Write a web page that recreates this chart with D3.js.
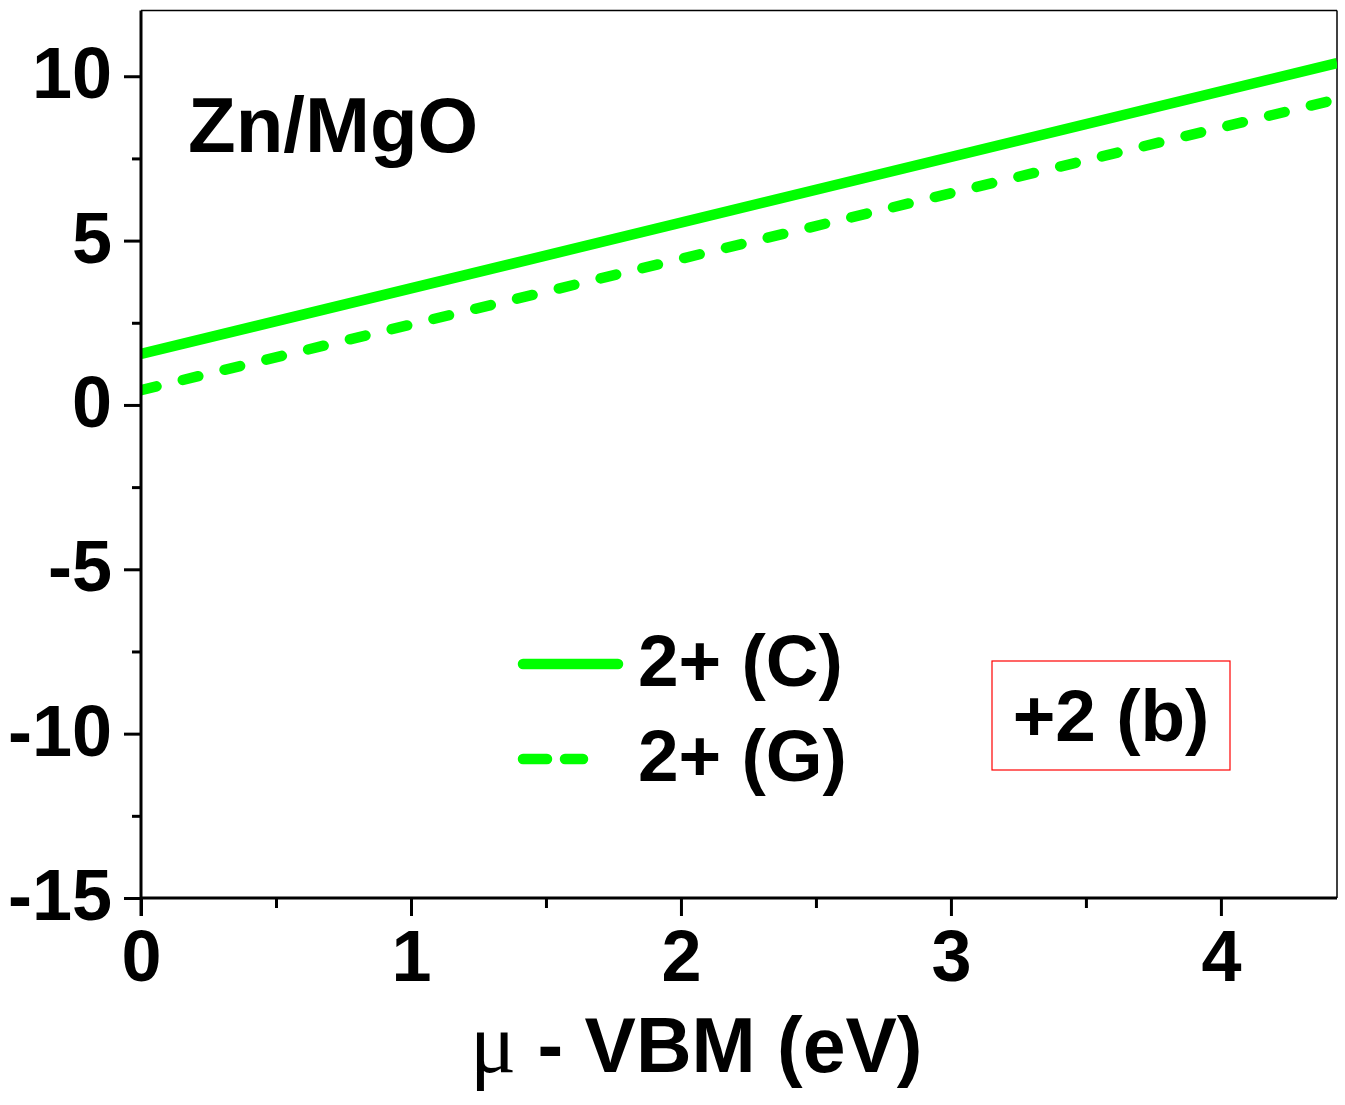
<!DOCTYPE html>
<html>
<head>
<meta charset="utf-8">
<script src="https://cdn.jsdelivr.net/npm/d3@7"></script>
<style>
  body { margin: 0; background: #fff; }
  text { font-family: "Liberation Sans", Arial, sans-serif; font-weight: bold; }
</style>
</head>
<body>
<div id="chart-area"></div>
<script>
// data
var xEnds = [0, 4.43];
var solidC = [1.55, 10.4];
var dashedG = [0.45, 9.3];
var seriesNames = ["2+ (C)", "2+ (G)"];
var xTicks = [0, 1, 2, 3, 4];
var xMinor = [0.5, 1.5, 2.5, 3.5];
var yTicks = [-15, -10, -5, 0, 5, 10];
var yMinor = [-12.5, -7.5, -2.5, 2.5, 7.5];

var margin = {top: 10.5, right: 8, bottom: 207, left: 141};
var width = 1345 - margin.left - margin.right;
var height = 1105 - margin.top - margin.bottom;

var svg = d3.select("#chart-area")
  .append("svg")
    .attr("width", 1345)
    .attr("height", 1105);

var g = svg.append("g")
  .attr("transform", "translate(" + margin.left + ", " + margin.top + ")");

var x = d3.scaleLinear().domain([0, 4.43]).range([0, width]);
var y = d3.scaleLinear().domain([-15, 12]).range([height, 0]);

var green = "#00ff00";

// top and right frame
g.append("line").attr("x1", 0).attr("x2", width).attr("y1", 0).attr("y2", 0)
  .attr("stroke", "#000").attr("stroke-width", 1.5);
g.append("line").attr("x1", width).attr("x2", width).attr("y1", 0).attr("y2", height)
  .attr("stroke", "#000").attr("stroke-width", 1.5);

// lines
var line = d3.line()
  .x(function(d) { return x(d[0]); })
  .y(function(d) { return y(d[1]); });

g.append("clipPath").attr("id", "clip")
  .append("rect").attr("width", width).attr("height", height);

g.append("path")
  .datum(xEnds.map(function(v, i) { return [v, solidC[i]]; }))
  .attr("d", line)
  .attr("clip-path", "url(#clip)")
  .attr("fill", "none")
  .attr("stroke", green)
  .attr("stroke-width", 10.5);

g.append("path")
  .datum(xEnds.map(function(v, i) { return [v, dashedG[i]]; }))
  .attr("d", line)
  .attr("clip-path", "url(#clip)")
  .attr("fill", "none")
  .attr("stroke", green)
  .attr("stroke-width", 10.5)
  .attr("stroke-linecap", "round")
  .attr("stroke-dasharray", "16,27");

// axes
var xAxisCall = d3.axisBottom(x).tickValues(xTicks).tickSize(18).tickPadding(14)
  .tickFormat(d3.format("d"));
var xMinorCall = d3.axisBottom(x).tickValues(xMinor).tickSize(10).tickFormat("");
var yAxisCall = d3.axisLeft(y).tickValues(yTicks).tickSize(17).tickPadding(12)
  .tickFormat(function(d) { return d < 0 ? "-" + Math.abs(d) : d; });
var yMinorCall = d3.axisLeft(y).tickValues(yMinor).tickSize(9).tickFormat("");

var xg = g.append("g").attr("transform", "translate(0, " + height + ")").call(xAxisCall);
var xmg = g.append("g").attr("transform", "translate(0, " + height + ")").call(xMinorCall);
var yg = g.append("g").call(yAxisCall);
var ymg = g.append("g").call(yMinorCall);

[xg, xmg, yg, ymg].forEach(function(a) {
  a.select(".domain").attr("stroke", "#000").attr("stroke-width", 3);
  a.selectAll(".tick line").attr("stroke", "#000").attr("stroke-width", 3);
});
xmg.select(".domain").remove();
ymg.select(".domain").remove();
xg.select(".domain").attr("d", "M0,0H" + width);
yg.select(".domain").attr("d", "M0,0V" + (height + 18));

xg.selectAll(".tick text")
  .attr("font-size", "72px")
  .attr("font-family", "Liberation Sans, Arial, sans-serif")
  .attr("font-weight", "bold")
  .attr("fill", "#000");
yg.selectAll(".tick text")
  .attr("font-size", "72px")
  .attr("font-family", "Liberation Sans, Arial, sans-serif")
  .attr("font-weight", "bold")
  .attr("fill", "#000")
  .attr("dy", "0.3em");

// axis title
var xt = svg.append("text")
  .attr("x", 470)
  .attr("y", 1072)
  .attr("font-size", "77px");
xt.append("tspan")
  .style("font-family", "Liberation Serif, serif")
  .style("font-weight", "normal")
  .style("font-size", "86px")
  .text("μ");
xt.append("tspan").text(" - VBM (eV)");

// panel label
g.append("text")
  .attr("x", 188 - margin.left)
  .attr("y", 152 - margin.top)
  .attr("font-size", "78px")
  .text("Zn/MgO");

// legend
var legendYs = [664, 759];
seriesNames.forEach(function(name, i) {
  var row = svg.append("g").attr("transform", "translate(523, " + legendYs[i] + ")");
  if (i === 0) {
    row.append("line").attr("x1", 0).attr("x2", 95).attr("y1", 0).attr("y2", 0)
      .attr("stroke", green).attr("stroke-width", 10.5).attr("stroke-linecap", "round");
  } else {
    row.append("line").attr("x1", 0).attr("x2", 60).attr("y1", 0).attr("y2", 0)
      .attr("stroke", green).attr("stroke-width", 10.5).attr("stroke-linecap", "round")
      .attr("stroke-dasharray", "24,18");
  }
  row.append("text")
    .attr("x", 115)
    .attr("y", 22)
    .attr("font-size", "73px")
    .text(name);
});

// boxed label
svg.append("rect")
  .attr("x", 992).attr("y", 661)
  .attr("width", 238).attr("height", 109)
  .attr("fill", "none")
  .attr("stroke", "#ff0000")
  .attr("stroke-width", 1.2);
svg.append("text")
  .attr("x", 1111)
  .attr("y", 741)
  .attr("text-anchor", "middle")
  .attr("font-size", "73px")
  .text("+2 (b)");
</script>
</body>
</html>
